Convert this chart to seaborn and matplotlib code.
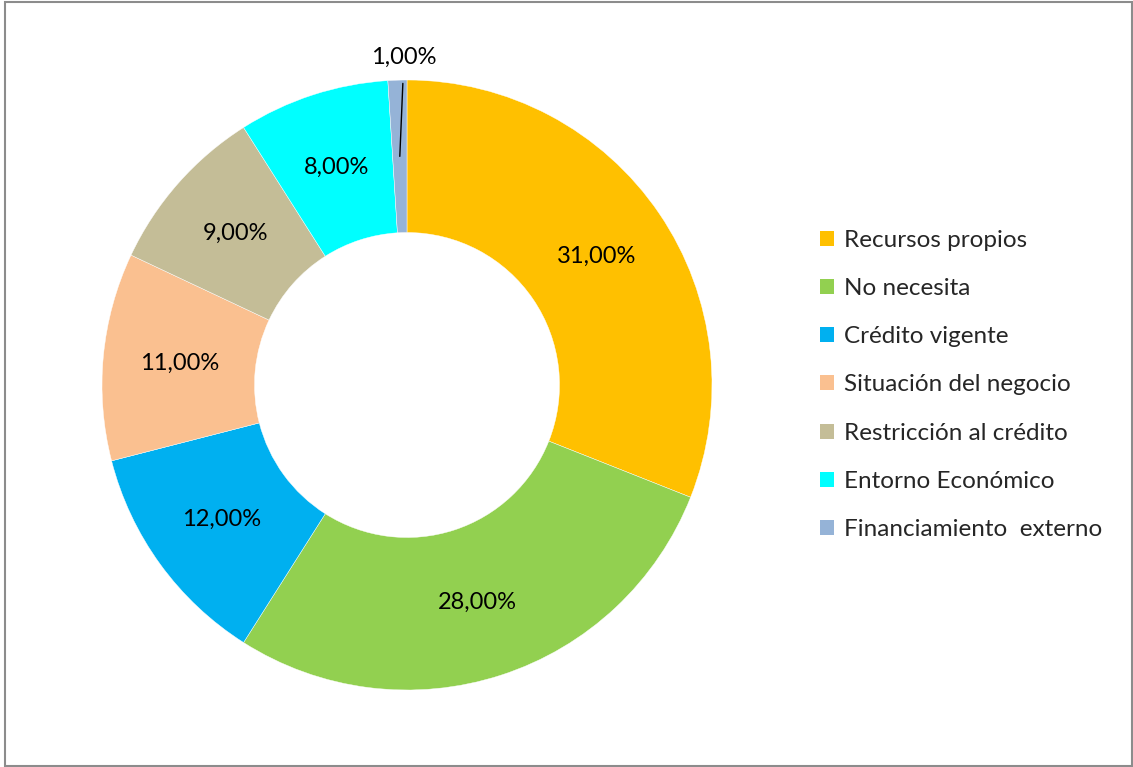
import matplotlib
matplotlib.use("Agg")
import matplotlib.pyplot as plt
from matplotlib.patches import Rectangle, Patch
import numpy as np
import seaborn as sns

categories = [
    "Recursos propios",
    "No necesita",
    "Crédito vigente",
    "Situación del negocio",
    "Restricción al crédito",
    "Entorno Económico",
    "Financiamiento  externo",
]
shares = [31.0, 28.0, 12.0, 11.0, 9.0, 8.0, 1.0]
hex_colors = ["#FFC000", "#92D050", "#00B0F0", "#FAC090", "#C4BD97", "#00FFFF", "#95B3D7"]

sns.set_theme(style="white")
plt.rcParams["font.family"] = ["Lato", "DejaVu Sans"]
palette = sns.color_palette(hex_colors)

W, H = 1133, 767
fig = plt.figure(figsize=(W / 100, H / 100), dpi=100)
fig.patch.set_facecolor("white")

# donut centre and outer radius in pixels
cx, cy, R = 407, 385, 305
half = 350
ax = fig.add_axes([(cx - half) / W, (H - cy - half) / H, 2 * half / W, 2 * half / H])

ring = 0.5
wedges, _ = ax.pie(
    shares,
    colors=palette,
    startangle=90,
    counterclock=False,
    radius=1.0,
    wedgeprops=dict(width=ring, edgecolor="white", linewidth=0.3),
)
lim = half / R
ax.set_xlim(-lim, lim)
ax.set_ylim(-lim, lim)
ax.set_aspect("equal")
ax.axis("off")

def fmt(v):
    return f"{v:.2f}".replace(".", ",") + "%"

label_size = 17
mid_r = 1.0 - ring / 2
for w, v in zip(wedges, shares):
    ang = np.deg2rad((w.theta1 + w.theta2) / 2)
    x, y = mid_r * np.cos(ang), mid_r * np.sin(ang)
    if v < 3:
        ax.annotate(fmt(v), xy=(x, y), xytext=(-0.01, 1.075), ha="center", va="center",
                    fontsize=label_size, color="black",
                    arrowprops=dict(arrowstyle="-", color="black", lw=1.0,
                                    shrinkA=9, shrinkB=0))
    else:
        ax.text(x, y, fmt(v), ha="center", va="center", fontsize=label_size, color="black")

handles = [Patch(facecolor=c, edgecolor="none") for c in palette]
fig.legend(handles, categories, loc="center left", bbox_to_anchor=(820 / W, (H - 385) / H),
           frameon=False, fontsize=17.5, handlelength=0.57, handleheight=0.57,
           handletextpad=0.4, labelspacing=1.12, borderaxespad=0, borderpad=0)

fig.add_artist(Rectangle((4.5 / W, 1.5 / H), (1131.5 - 4.5) / W, (765.5 - 1.5) / H,
                         transform=fig.transFigure, fill=False, edgecolor="#8C8C8C", lw=1.5))

fig.savefig("out.png", dpi=100, facecolor="white")
